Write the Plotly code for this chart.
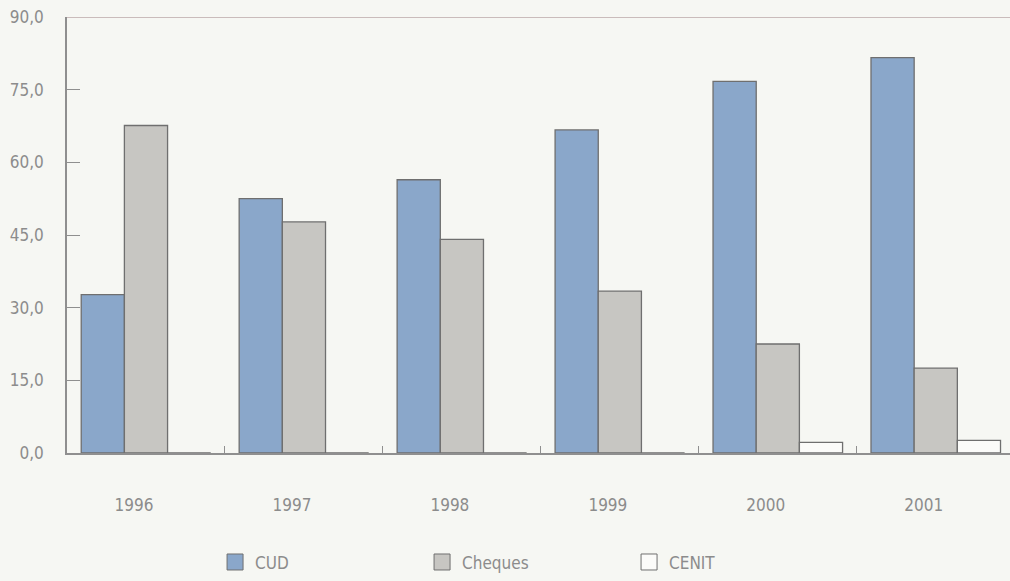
import plotly.graph_objects as go

years = ["1996", "1997", "1998", "1999", "2000", "2001"]
cud = [32.7, 52.5, 56.4, 66.7, 76.7, 81.6]
cheques = [67.6, 47.7, 44.1, 33.4, 22.5, 17.5]
cenit = [0.0, 0.0, 0.0, 0.0, 2.2, 2.6]
y_ticks = [0, 15, 30, 45, 60, 75, 90]
y_tick_labels = ["0,0", "15,0", "30,0", "45,0", "60,0", "75,0", "90,0"]

FONT = "Liberation Sans Narrow, DejaVu Sans Condensed, sans-serif"
TXT = "#8c8c8c"
EDGE = "#6f6f6f"
BG = "#f6f7f3"

series = [("CUD", cud, "#8aa7ca"), ("Cheques", cheques, "#c7c6c2"), ("CENIT", cenit, "#fbfbf9")]

fig = go.Figure()
for name, vals, col in series:
    fig.add_trace(go.Bar(x=years, y=vals, name=name, marker=dict(color=col, line=dict(color=EDGE, width=1.3)),
                         showlegend=False))
for name, vals, col in series:
    fig.add_trace(go.Scatter(x=[None], y=[None], mode="markers", name=name,
                             marker=dict(symbol="square", size=20, color=col, line=dict(color=EDGE, width=1))))

fig.update_layout(
    width=1010, height=581,
    margin=dict(l=67, r=0, t=17, b=126),
    paper_bgcolor=BG, plot_bgcolor=BG,
    barmode="group", bargap=0.18, bargroupgap=0,
    font=dict(family=FONT, size=17, color=TXT),
    showlegend=True,
    legend=dict(orientation="h", x=0.157, xanchor="left", y=-0.251, yanchor="middle",
                bgcolor="rgba(0,0,0,0)", entrywidth=162, entrywidthmode="pixels",
                font=dict(family=FONT, size=17, color=TXT), itemclick=False),
)
fig.update_xaxes(
    range=[-0.5, 5.47], showline=True, linecolor="#8f8f8f", linewidth=1.5,
    tickson="boundaries", ticks="inside", ticklen=7, tickcolor="#8f8f8f", tickwidth=1.2,
    ticklabelstandoff=36, ticklabelshift=-12, showgrid=False, zeroline=False,
)
fig.update_yaxes(
    range=[0, 90], tickvals=y_ticks, ticktext=y_tick_labels,
    showline=True, linecolor="#8f8f8f", linewidth=1.5,
    ticks="inside", ticklen=13, tickcolor="#8f8f8f", tickwidth=1.2,
    ticklabelstandoff=18, showgrid=False, zeroline=False,
)
fig.add_shape(type="line", xref="paper", yref="y", x0=0, x1=1, y0=90, y1=90,
              line=dict(color="#bba9a9", width=1.5))

fig.write_html("out.html")
